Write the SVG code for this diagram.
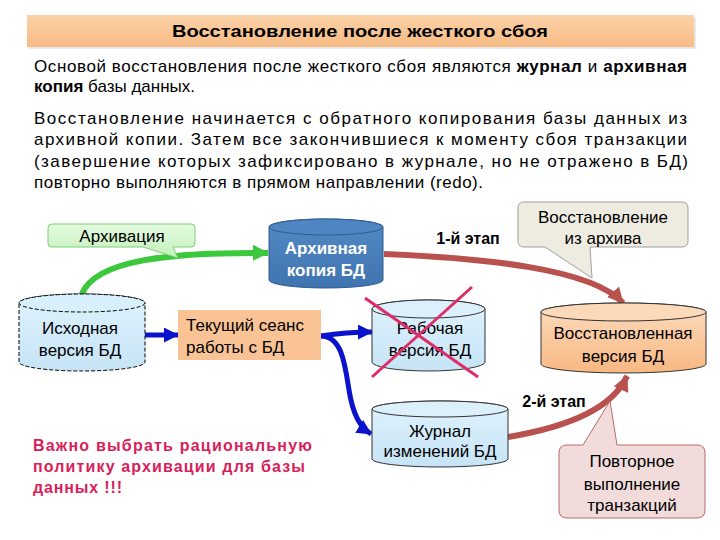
<svg xmlns="http://www.w3.org/2000/svg" width="720" height="540" viewBox="0 0 720 540">
<defs>
<style>
text{font-family:"Liberation Sans",Arial,sans-serif;fill:#000}
.p{font-size:17px}
.b{font-weight:bold}
.lbl{font-size:17px;text-anchor:middle}
.warn{font-size:16px;font-weight:bold;fill:#d81e5b}
.cyl{stroke:#333;stroke-width:1}
</style>
<linearGradient id="gTitle" x1="0" y1="0" x2="0" y2="1"><stop offset="0" stop-color="#fbd2a8"/><stop offset="1" stop-color="#f8bb85"/></linearGradient>
<linearGradient id="gBlue" x1="0" y1="0" x2="0" y2="1"><stop offset="0" stop-color="#dff2fd"/><stop offset="1" stop-color="#c6e4f6"/></linearGradient>
<linearGradient id="gArch" x1="0" y1="0" x2="0" y2="1"><stop offset="0" stop-color="#5389c4"/><stop offset="1" stop-color="#3f74b0"/></linearGradient>
<linearGradient id="gOr" x1="0" y1="0" x2="0" y2="1"><stop offset="0" stop-color="#fcdcbf"/><stop offset="1" stop-color="#f8b882"/></linearGradient>
<linearGradient id="gGreen" x1="0" y1="0" x2="0" y2="1"><stop offset="0" stop-color="#e4fbe0"/><stop offset="1" stop-color="#c2efba"/></linearGradient>
<marker id="mG" viewBox="0 0 16 16" refX="15" refY="8" markerWidth="16" markerHeight="16" markerUnits="userSpaceOnUse" orient="auto"><path d="M0,0 L16,8 L0,16 Z" fill="#3cc83c"/></marker>
<marker id="mR" viewBox="0 0 16 16" refX="15" refY="8" markerWidth="16" markerHeight="16" markerUnits="userSpaceOnUse" orient="auto"><path d="M0,0 L16,8 L0,16 Z" fill="#b9524f"/></marker>
<marker id="mB" viewBox="0 0 16 16" refX="15" refY="8" markerWidth="15" markerHeight="15" markerUnits="userSpaceOnUse" orient="auto"><path d="M0,0 L16,8 L0,16 Z" fill="#0a12cc"/></marker>
</defs>
<rect width="720" height="540" fill="#fff"/>

<g id="title">
<rect x="29" y="17" width="667" height="32" fill="#e8e8e8"/>
<rect x="27" y="15" width="667" height="32" fill="url(#gTitle)"/>
<text x="360" y="37" class="b" font-size="17" text-anchor="middle" textLength="376" lengthAdjust="spacingAndGlyphs">Восстановление после жесткого сбоя</text>
</g>

<g id="text">
<text class="p" x="34" y="72" textLength="653" lengthAdjust="spacing">Основой восстановления после жесткого сбоя являются <tspan class="b">журнал</tspan> и <tspan class="b">архивная</tspan></text>
<text class="p" x="34" y="92"><tspan class="b">копия</tspan> базы данных.</text>
<text class="p" x="34" y="124" textLength="653" lengthAdjust="spacing">Восстановление начинается с обратного копирования базы данных из</text>
<text class="p" x="34" y="145" textLength="653" lengthAdjust="spacing">архивной копии. Затем все закончившиеся к моменту сбоя транзакции</text>
<text class="p" x="34" y="167" textLength="654" lengthAdjust="spacing">(завершение которых зафиксировано в журнале, но не отражено в БД)</text>
<text class="p" x="34" y="188" textLength="449" lengthAdjust="spacing">повторно выполняются в прямом направлении (redo).</text>
</g>

<g id="connectors" fill="none">
<path d="M82,294 C95,260 170,252 268,253" stroke="#3cc83c" stroke-width="6" marker-end="url(#mG)"/>
<path d="M384,254 C480,258 592,268 623,303" stroke="#b9524f" stroke-width="6" marker-end="url(#mR)"/>
<path d="M508,437 C562,428 612,410 627,376" stroke="#b9524f" stroke-width="6" marker-end="url(#mR)"/>
<path d="M145,335 L178,335" stroke="#0a12cc" stroke-width="5" marker-end="url(#mB)"/>
<path d="M321,336 C340,333 355,332 372,332" stroke="#0a12cc" stroke-width="5" marker-end="url(#mB)"/>
<path d="M321,336 C342,336 345,365 349,390 C353,415 360,427 371,434" stroke="#0a12cc" stroke-width="5" marker-end="url(#mB)"/>
</g>

<g id="archivation">
<path d="M52,224 H191 Q195,224 195,228 V243 Q195,247 191,247 H173 L178,258 L143,247 H52 Q48,247 48,243 V228 Q48,224 52,224 Z" fill="url(#gGreen)" stroke="#7ccf72" stroke-width="1"/>
<text class="lbl" x="122" y="242">Архивация</text>
</g>

<g id="archive-copy">
<path d="M269,227 A57,8 0 0 1 383,227 V280 A57,8 0 0 1 269,280 Z" fill="url(#gArch)" stroke="#2f5d90"/>
<ellipse cx="326" cy="227" rx="57" ry="8" fill="#4f85c2" stroke="#2f5d90"/>
<text class="lbl b" x="326" y="254" font-size="16" style="fill:#fff">Архивная</text>
<text class="lbl b" x="326" y="276" font-size="16" style="fill:#fff">копия БД</text>
</g>

<g id="source-db">
<path d="M19,303 A63,9 0 0 1 145,303 V362 A63,9 0 0 1 19,362 Z" fill="url(#gBlue)" stroke="#000" stroke-dasharray="4,2"/>
<ellipse cx="82" cy="303" rx="63" ry="9" fill="#d8effc" stroke="#000" stroke-dasharray="4,2"/>
<text class="lbl" x="80" y="334">Исходная</text>
<text class="lbl" x="80" y="356">версия БД</text>
</g>

<g id="session">
<rect x="178" y="310" width="143" height="50" fill="#f9c396"/>
<text x="186" y="331" font-size="17">Текущий сеанс</text>
<text x="186" y="353" font-size="17">работы с БД</text>
</g>

<g id="work-db">
<path d="M372,309 A56.5,9 0 0 1 485,309 V362 A56.5,9 0 0 1 372,362 Z" fill="url(#gBlue)" class="cyl"/>
<ellipse cx="428.5" cy="309" rx="56.5" ry="9" fill="#dcf0fc" class="cyl"/>
<text class="lbl" x="430" y="334">Рабочая</text>
<text class="lbl" x="430" y="356">версия БД</text>
<line x1="365" y1="298" x2="478" y2="377" stroke="#dd2c68" stroke-width="3"/>
<line x1="472" y1="287" x2="372" y2="377" stroke="#dd2c68" stroke-width="3"/>
</g>

<g id="journal-db">
<path d="M372,409 A68,8 0 0 1 508,409 V459 A68,8 0 0 1 372,459 Z" fill="url(#gBlue)" class="cyl"/>
<ellipse cx="440" cy="409" rx="68" ry="8" fill="#dcf0fc" class="cyl"/>
<text class="lbl" x="440" y="437">Журнал</text>
<text class="lbl" x="440" y="457">изменений БД</text>
</g>

<g id="restored-db">
<path d="M541,312 A82.5,9 0 0 1 706,312 V364 A82.5,9 0 0 1 541,364 Z" fill="url(#gOr)" class="cyl"/>
<ellipse cx="623.5" cy="312" rx="82.5" ry="9" fill="#fcd9b9" class="cyl"/>
<text class="lbl" x="623" y="339">Восстановленная</text>
<text class="lbl" x="623" y="362">версия  БД</text>
</g>

<g id="restore-callout">
<path d="M524,202 H682 Q688,202 688,208 V241 Q688,247 682,247 H590 L592,278 L545,247 H524 Q518,247 518,241 V208 Q518,202 524,202 Z" fill="#eeece1" stroke="#a0a0a0"/>
<text class="lbl" x="603" y="223">Восстановление</text>
<text class="lbl" x="603" y="244">из архива</text>
</g>

<g id="redo-callout">
<path d="M567,445 H583 L610,401 L617,445 H697 Q705,445 705,453 V510 Q705,518 697,518 H567 Q559,518 559,510 V453 Q559,445 567,445 Z" fill="#f2dcdb" stroke="#b86a68"/>
<text class="lbl" x="632" y="467">Повторное</text>
<text class="lbl" x="632" y="490">выполнение</text>
<text class="lbl" x="632" y="511">транзакций</text>
</g>

<g id="stage-labels">
<text x="468" y="244" class="b" font-size="16" text-anchor="middle">1-й этап</text>
<text x="554" y="407" class="b" font-size="16" text-anchor="middle">2-й этап</text>
</g>

<g id="warning">
<text class="warn" x="33" y="451" textLength="279" lengthAdjust="spacing">Важно выбрать рациональную</text>
<text class="warn" x="33" y="472" textLength="272" lengthAdjust="spacing">политику архивации для базы</text>
<text class="warn" x="33" y="493" textLength="89" lengthAdjust="spacing">данных !!!</text>
</g>
</svg>
